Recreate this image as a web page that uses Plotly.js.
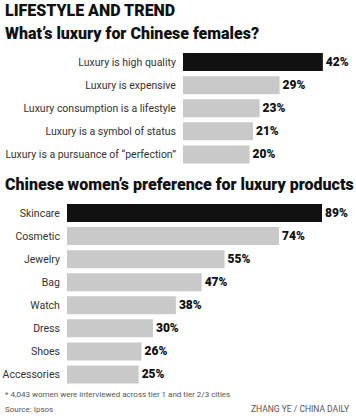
<!DOCTYPE html>
<html>
<head>
<meta charset="utf-8">
<script src="https://cdn.plot.ly/plotly-3.0.1.min.js"></script>
<style>html,body{margin:0;padding:0;background:#fff;}#chart{width:356px;height:418px;}</style>
</head>
<body>
<div id="chart"></div>
<script>
const q1Labels = ['Luxury is high quality', 'Luxury is expensive', 'Luxury consumption is a lifestyle', 'Luxury is a symbol of status', 'Luxury is a pursuance of \u201cperfection\u201d'];
const q1Values = [42, 29, 23, 21, 20];
const q2Labels = ['Skincare', 'Cosmetic', 'Jewelry', 'Bag', 'Watch', 'Dress', 'Shoes', 'Accessories'];
const q2Values = [89, 74, 55, 47, 38, 30, 26, 25];

const mainTitle = 'LIFESTYLE AND TREND';
const q1Title = 'What\u2019s luxury for Chinese females?';
const q2Title = 'Chinese women\u2019s preference for luxury products';
const footnote = '* 4,043 women were interviewed across tier 1 and tier 2/3 cities';
const sourceText = 'Source: Ipsos';
const creditText = 'ZHANG YE / CHINA DAILY';

const DARK = '#111111', LIGHT = '#c9c9c9';
const W = 356, H = 418;
const colorsFor = vals => vals.map((v, i) => i === 0 ? DARK : LIGHT);
const valFont = {family: 'Roboto, sans-serif', size: 12, weight: 900, color: '#111'};
const catFont = {family: 'Roboto, sans-serif', size: 10.5, color: '#333'};

const traces = [
  {type: 'bar', orientation: 'h', x: q1Values, y: q1Labels, xaxis: 'x', yaxis: 'y',
   marker: {color: colorsFor(q1Values)}, text: q1Values.map(v => v + '%'), textposition: 'outside',
   textfont: valFont, cliponaxis: false, hoverinfo: 'none'},
  {type: 'bar', orientation: 'h', x: q2Values, y: q2Labels, xaxis: 'x2', yaxis: 'y2',
   marker: {color: colorsFor(q2Values)}, text: q2Values.map(v => v + '%'), textposition: 'outside',
   textfont: valFont, cliponaxis: false, hoverinfo: 'none'}
];

const hiddenX = {showgrid: false, zeroline: false, showticklabels: false, ticks: '', fixedrange: true};
const catY = {type: 'category', showgrid: false, zeroline: false, showline: false, ticks: 'outside', ticklen: 4,
  tickcolor: 'rgba(0,0,0,0)', tickfont: catFont, fixedrange: true};

const layout = {
  width: W, height: H, margin: {l: 0, r: 0, t: 0, b: 0}, showlegend: false,
  paper_bgcolor: '#fff', plot_bgcolor: '#fff', bargap: 0.22,
  xaxis: Object.assign({}, hiddenX, {domain: [183 / W, 1], range: [0, (W - 183) / 3.33], anchor: 'y'}),
  yaxis: Object.assign({}, catY, {domain: [1 - 166 / H, 1 - 50.5 / H], range: [4.5, -0.5], anchor: 'x'}),
  xaxis2: Object.assign({}, hiddenX, {domain: [67 / W, 1], range: [0, (W - 67) / 2.865], anchor: 'y2'}),
  yaxis2: Object.assign({}, catY, {domain: [1 - 386 / H, 1 - 201.5 / H], range: [7.5, -0.5], anchor: 'x2'}),
  annotations: [
    {text: mainTitle, x: 3 / W, y: 1 - 10 / H, font: {family: 'Roboto, sans-serif', size: 16, weight: 900, color: '#111'}},
    {text: q1Title, x: 3 / W, y: 1 - 34 / H, font: {family: 'Roboto, sans-serif', size: 16, weight: 900, color: '#111'}},
    {text: q2Title, x: 3 / W, y: 1 - 185 / H, font: {family: 'Roboto, sans-serif', size: 16, weight: 900, color: '#111'}},
    {text: footnote, x: 3 / W, y: 1 - 394 / H, font: {family: 'Roboto, sans-serif', size: 8, color: '#555'}},
    {text: sourceText, x: 3 / W, y: 1 - 409 / H, font: {family: 'Roboto, sans-serif', size: 8, color: '#555'}},
    {text: creditText, x: 352 / W, y: 1 - 409 / H, xanchor: 'right', font: {family: 'Roboto, sans-serif', size: 8.5, color: '#555'}}
  ].map(a => Object.assign({xref: 'paper', yref: 'paper', xanchor: 'left', yanchor: 'middle', showarrow: false}, a))
};

Plotly.newPlot('chart', traces, layout, {staticPlot: true, displayModeBar: false});
</script>
</body>
</html>
